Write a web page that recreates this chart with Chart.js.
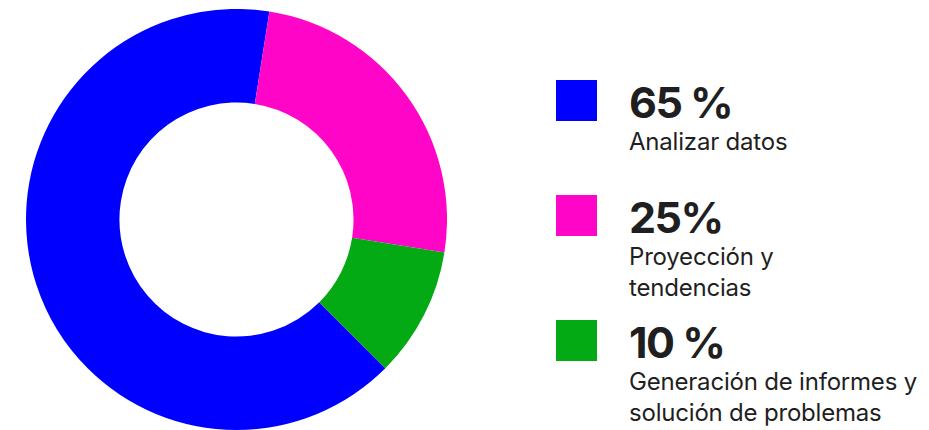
<!DOCTYPE html>
<html>
<head>
<meta charset="utf-8">
<script src="https://cdn.jsdelivr.net/npm/chart.js@4.4.0/dist/chart.umd.min.js"></script>
<style>
    html, body {
        margin: 0;
        padding: 0;
        background: #ffffff;
        width: 929px;
        height: 430px;
        overflow: hidden;
        font-family: 'Inter', 'Liberation Sans', sans-serif;
        color: #1f1f22;
    }
    #chart-wrap {
        position: absolute;
        left: 26px;
        top: 9px;
        width: 421px;
        height: 421px;
    }
    .item {
        position: absolute;
        left: 556px;
    }
    .swatch {
        position: absolute;
        left: 0;
        top: 0;
        width: 41px;
        height: 41px;
    }
    .pct {
        position: absolute;
        left: 73px;
        top: -3px;
        font-size: 43px;
        font-weight: 700;
        line-height: 50px;
        white-space: nowrap;
        letter-spacing: -1.5px;
    }
    .desc {
        position: absolute;
        left: 73px;
        top: 46px;
        font-size: 24px;
        line-height: 31px;
        white-space: nowrap;
        letter-spacing: -0.2px;
    }
</style>
</head>
<body>
<div id="chart-wrap"><canvas id="donut"></canvas></div>
<div id="legend"></div>
<script>
    // chart data
    const categories = ['Analizar datos', 'Proyección y<br>tendencias', 'Generación de informes y<br>solución de problemas'];
    const values = [65, 25, 10];
    const valueLabels = ['65 %', '25%', '10 %'];
    const colors = ['#0000ff', '#ff05c8', '#03aa14'];
    const legendTops = [80, 195, 320];

    new Chart(document.getElementById('donut'), {
        type: 'doughnut',
        data: {
            labels: categories.map((c) => c.replace('<br>', ' ')),
            datasets: [
                {
                    data: values,
                    backgroundColor: colors,
                    borderWidth: 0,
                },
            ],
        },
        options: {
            responsive: true,
            maintainAspectRatio: false,
            animation: false,
            rotation: 135,
            cutout: '55.6%',
            layout: { padding: 0 },
            plugins: {
                legend: { display: false },
                tooltip: { enabled: false },
            },
        },
    });

    // html legend on the right
    const legend = document.getElementById('legend');
    categories.forEach((cat, i) => {
        const item = document.createElement('div');
        item.className = 'item';
        item.style.top = legendTops[i] + 'px';
        item.innerHTML =
            '<div class="swatch" style="background:' + colors[i] + '"></div>' +
            '<div class="pct">' + valueLabels[i] + '</div>' +
            '<div class="desc">' + cat + '</div>';
        legend.appendChild(item);
    });
</script>
</body>
</html>
